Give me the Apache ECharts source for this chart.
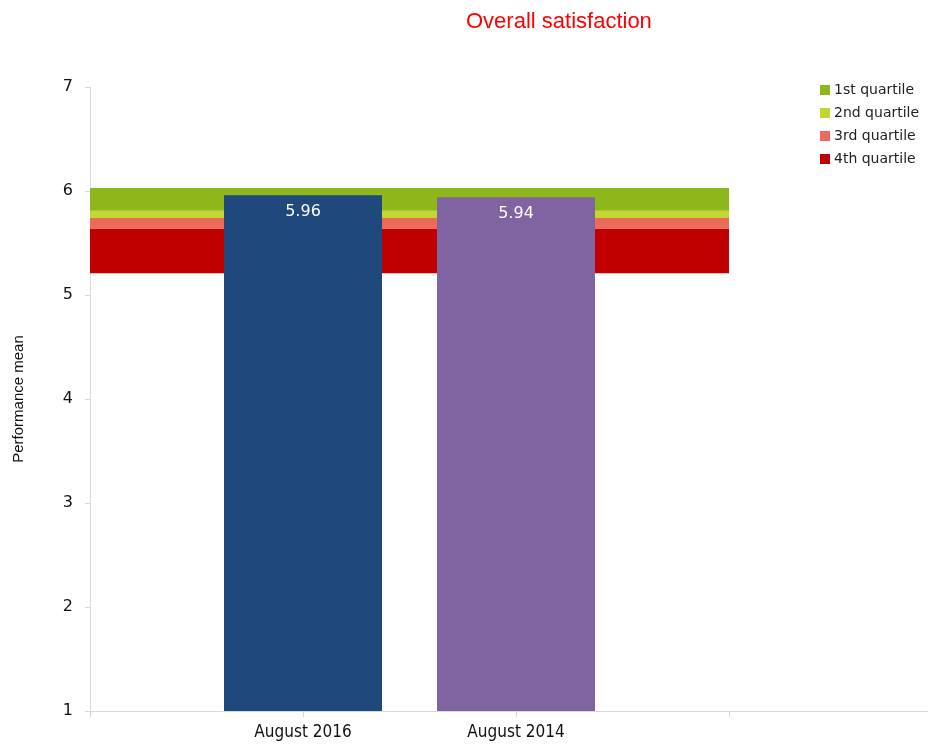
<!DOCTYPE html>
<html>
<head>
<meta charset="utf-8">
<script src="https://cdn.jsdelivr.net/npm/echarts@6/dist/echarts.min.js"></script>
<style>
  html, body { margin: 0; padding: 0; background: #fff; }
  #chart { width: 928px; height: 745px; }
</style>
</head>
<body>
<div id="chart"></div>
<script>
// Category slots; the bars sit on the two middle ticks.
const categories = ['', 'August 2016', 'August 2014', '', ''];
const periods = ['August 2016', 'August 2014'];
const performanceMean = [5.96, 5.94];
const barColors = ['#1f497d', '#8064a2'];

// Quartile band boundaries (bottom of 4th quartile up to top of 1st quartile).
const quartileBottom = 5.21;
const quartileTops = [5.64, 5.74, 5.81, 6.03]; // 4th, 3rd, 2nd, 1st
const quartileNames = ['4th quartile', '3rd quartile', '2nd quartile', '1st quartile'];
const quartileColors = ['#c00000', '#ed6a5a', '#c2d82f', '#8db71b'];
const bandSlots = 4; // band spans the first four ticks

const yTicks = { min: 1, max: 7, interval: 1 };

function bandData(v) {
  const arr = [];
  for (let i = 0; i < categories.length; i++) arr.push(i < bandSlots ? v : null);
  return arr;
}

const series = [];
series.push({
  name: 'base', type: 'line', stack: 'q', data: bandData(quartileBottom),
  symbol: 'none', lineStyle: { opacity: 0 }, silent: true, z: 1
});
let prev = quartileBottom;
quartileTops.forEach((top, i) => {
  series.push({
    name: quartileNames[i], type: 'line', stack: 'q',
    data: bandData(+(top - prev).toFixed(4)),
    symbol: 'none', lineStyle: { width: 0, opacity: 0 },
    areaStyle: { color: quartileColors[i], opacity: 1 },
    itemStyle: { color: quartileColors[i] },
    silent: true, z: 1
  });
  prev = top;
});

const barData = categories.map(c => {
  const k = periods.indexOf(c);
  if (k < 0 || c === '') return null;
  return { value: performanceMean[k], itemStyle: { color: barColors[k] } };
});
series.push({
  name: 'mean', type: 'bar', data: barData, barWidth: 158, z: 3,
  label: {
    show: true, position: 'insideTop', distance: 9, color: '#fff',
    fontSize: 16, fontFamily: 'DejaVu Sans', formatter: p => p.value.toFixed(2)
  }
});

const chart = echarts.init(document.getElementById('chart'));
chart.setOption({
  animation: false,
  title: {
    text: 'Overall satisfaction', left: 461, top: 6,
    textStyle: { color: '#ff0000', fontSize: 22, fontWeight: 'normal', fontFamily: 'Liberation Sans' }
  },
  legend: {
    orient: 'vertical', left: 815, top: 78, itemGap: 9,
    itemWidth: 10, itemHeight: 10, icon: 'rect',
    data: quartileNames.slice().reverse(),
    textStyle: { fontSize: 14, color: '#222', fontFamily: 'DejaVu Sans', padding: [0, 0, 0, -1] }
  },
  grid: { left: 90, width: 852, top: 87, bottom: 34, outerBoundsMode: 'none', containLabel: false },
  xAxis: {
    type: 'category', data: categories, boundaryGap: false,
    axisLine: { lineStyle: { color: '#d9d9d9', width: 1 } },
    axisTick: { show: true, length: 6, lineStyle: { color: '#d9d9d9' } },
    axisLabel: { color: '#111', fontSize: 17, fontFamily: 'DejaVu Sans Condensed', margin: 13, interval: 0 }
  },
  yAxis: {
    type: 'value', min: yTicks.min, max: yTicks.max, interval: yTicks.interval,
    name: 'Performance mean', nameLocation: 'middle', nameGap: 64,
    nameTextStyle: { fontSize: 15, color: '#111', fontFamily: 'Liberation Sans' },
    splitLine: { show: false },
    axisLine: { show: true, lineStyle: { color: '#d9d9d9' } },
    axisTick: { show: true, length: 5, lineStyle: { color: '#d9d9d9' } },
    axisLabel: { color: '#111', fontSize: 16, fontFamily: 'DejaVu Sans', margin: 17 }
  },
  series: series
});
</script>
</body>
</html>
